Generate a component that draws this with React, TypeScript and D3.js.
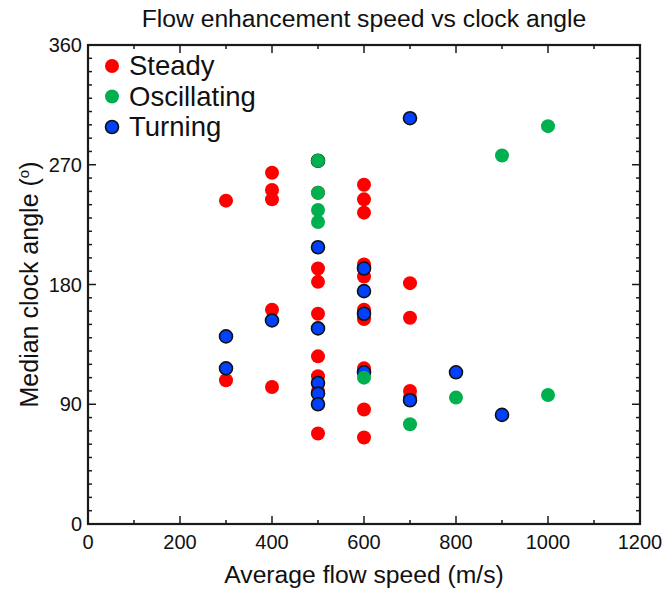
import React from "react";
import * as d3 from "d3";

const title = "Flow enhancement speed vs clock angle";
const xLabel = "Average flow speed (m/s)";
const yLabelMain = "Median clock angle (";
const xTicks = [0, 200, 400, 600, 800, 1000, 1200];
const yTicks = [0, 90, 180, 270, 360];
const seriesNames = ["Steady", "Oscillating", "Turning"];
const seriesColors = ["#ff0000", "#00b04f", "#0041ff"];

const steadyX = [300, 300, 400, 400, 400, 400, 400, 500, 500, 500, 500, 500, 500, 500, 500, 600, 600, 600, 600, 600, 600, 600, 600, 600, 600, 700, 700, 700, 700];
const steadyY = [243, 108, 264, 251, 244, 161, 103, 249, 192, 182, 158, 126, 111, 100, 68, 255, 244, 234, 195, 186, 161, 154, 117, 86, 65, 181, 155, 100, 95];

const oscX = [500, 500, 500, 500, 600, 700, 800, 900, 1000, 1000];
const oscY = [273, 249, 236, 227, 110, 75, 95, 277, 299, 97];

const turnX = [300, 300, 400, 500, 500, 500, 500, 500, 500, 600, 600, 600, 600, 700, 700, 800, 900];
const turnY = [141, 117, 153, 273, 208, 147, 106, 98, 90, 192, 175, 158, 114, 305, 93, 114, 82];

const W = 667, H = 593;
const left = 88, right = 640, top = 45, bottom = 524;
const FONT = "'Liberation Sans', Arial, Helvetica, sans-serif";

export default function App() {
  const x = d3.scaleLinear().domain([0, 1200]).range([left, right]);
  const y = d3.scaleLinear().domain([0, 360]).range([bottom, top]);
  const xMinor = d3.range(0, 1201, 100);
  const yMinor = d3.range(0, 361, 10);
  const ink = "#1a1a1a";

  const layers = [
    { xs: steadyX, ys: steadyY, color: seriesColors[0], stroke: "none" },
    { xs: turnX, ys: turnY, color: seriesColors[2], stroke: "#111" },
    { xs: oscX, ys: oscY, color: seriesColors[1], stroke: "none" },
  ];

  return (
    <svg width={W} height={H} style={{ position: "absolute", left: 0, top: 0, background: "#fff" }} fontFamily={FONT}>
      <rect x={0} y={0} width={W} height={H} fill="#fff" />
      <text x={(left + right) / 2} y={27} textAnchor="middle" fontSize={24.7} fill="#111">{title}</text>
      {xMinor.map((v) => {
        const len = v % 200 === 0 ? 8 : 4;
        return (
          <g key={"xt" + v} stroke={ink} strokeWidth={1.5}>
            <line x1={x(v)} x2={x(v)} y1={bottom} y2={bottom - len} />
            <line x1={x(v)} x2={x(v)} y1={top} y2={top + len} />
          </g>
        );
      })}
      {yMinor.map((v) => {
        const len = v % 90 === 0 ? 8 : 4;
        return (
          <g key={"yt" + v} stroke={ink} strokeWidth={1.5}>
            <line x1={left} x2={left + len} y1={y(v)} y2={y(v)} />
            <line x1={right} x2={right - len} y1={y(v)} y2={y(v)} />
          </g>
        );
      })}
      <rect x={left} y={top} width={right - left} height={bottom - top} fill="none" stroke={ink} strokeWidth={2.2} />
      {xTicks.map((v) => (
        <text key={"xl" + v} x={x(v)} y={549} textAnchor="middle" fontSize={20} fill="#111">{v}</text>
      ))}
      {yTicks.map((v) => (
        <text key={"yl" + v} x={left - 6} y={y(v) + 7} textAnchor="end" fontSize={20} fill="#111">{v}</text>
      ))}
      <text x={(left + right) / 2} y={583} textAnchor="middle" fontSize={24.7} fill="#111">{xLabel}</text>
      <text transform={`translate(38,${(top + bottom) / 2}) rotate(-90)`} textAnchor="middle" fontSize={25} fill="#111">
        {yLabelMain}<tspan fontSize={15} dy={-9}>o</tspan><tspan dy={9}>)</tspan>
      </text>
      {layers.map((L, li) => (
        <g key={"layer" + li}>
          {L.xs.map((xv, i) => (
            <circle key={i} cx={x(xv)} cy={y(L.ys[i])} r={L.stroke === "none" ? 7 : 6.5}
              fill={L.color} stroke={L.stroke} strokeWidth={L.stroke === "none" ? 0 : 1.6} />
          ))}
        </g>
      ))}
      {seriesNames.map((n, i) => (
        <g key={"lg" + n}>
          <circle cx={112} cy={66 + i * 30.5} r={i === 2 ? 6.5 : 7} fill={seriesColors[i]}
            stroke={i === 2 ? "#111" : "none"} strokeWidth={i === 2 ? 1.6 : 0} />
          <text x={129} y={66 + i * 30.5 + 9} fontSize={27.5} fill="#111">{n}</text>
        </g>
      ))}
    </svg>
  );
}
